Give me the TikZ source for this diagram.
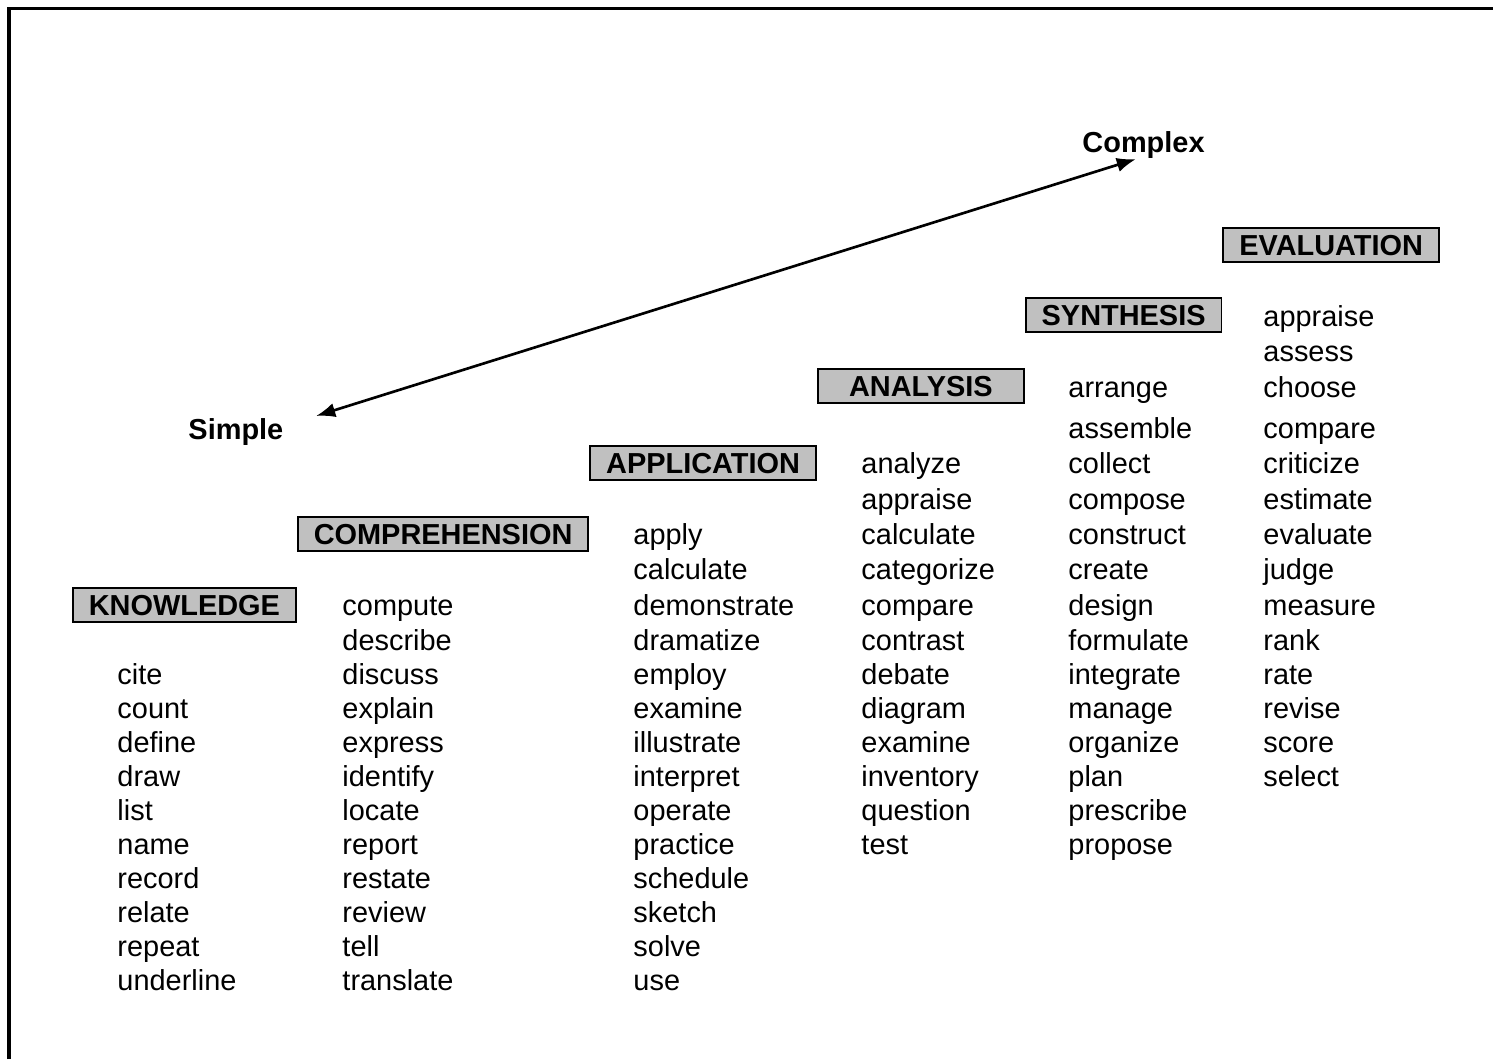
\documentclass[12pt,tikz,border=0pt]{standalone}
\usepackage{fontspec}
\setmainfont{Liberation Sans}
\usetikzlibrary{positioning, arrows.meta}
\definecolor{boxgray}{RGB}{192,192,192}
\tikzset{
level/.style={draw, fill=boxgray, line width=0.8pt, font=\bfseries,
  inner xsep=6.6pt, inner ysep=0pt, minimum height=14.1pt,
  text height=8.6pt, text depth=0pt}, % the gray heading boxes
verb/.style={anchor=west, inner sep=0pt, text height=8.6pt, text depth=0pt}, % one word of a list
pole/.style={verb, font=\bfseries}, % Simple / Complex
}
% y of each text row, top to bottom
\def\rows{{245,316,351,387,428,463,499,534,569,605,640,674,708,742,776,810,844,878,912,946,980}}

\begin{document}
\begin{tikzpicture}[x=0.415pt, y=-0.415pt]
  \useasboundingbox (0,0) rectangle (1493,1059);
  \draw[line width=1.25pt] (9,1059) -- (9,8) -- (1493,8);

  % headings, each one step up and to the right
  \node[level, anchor=west] (know) at (72,605) {KNOWLEDGE};
  \node[level, above right=14.6pt and 0pt of know] (comp) {COMPREHENSION};
  \node[level, above right=14.5pt and 0pt of comp] (app) {APPLICATION};
  \node[level, above right=17pt and 0pt of app, minimum width=85.5pt] (ana) {ANALYSIS};
  \node[level, above right=14.6pt and 0pt of ana] (syn) {SYNTHESIS};
  \node[level, above right=14.2pt and 0pt of syn] (eval) {EVALUATION};

  % the word lists
  \foreach \w [count=\i from 11] in {cite,count,define,draw,list,name,record,relate,repeat,underline}{
    \pgfmathsetmacro\yy{\rows[\i]}
    \node[verb] (know-\i) at (117,\yy) {\w};
  }
  \foreach \w [count=\i from 9] in {compute,describe,discuss,explain,express,identify,locate,report,restate,review,tell,translate}{
    \pgfmathsetmacro\yy{\rows[\i]}
    \node[verb] (comp-\i) at (342,\yy) {\w};
  }
  \foreach \w [count=\i from 7] in {apply,calculate,demonstrate,dramatize,employ,examine,illustrate,interpret,operate,practice,schedule,sketch,solve,use}{
    \pgfmathsetmacro\yy{\rows[\i]}
    \node[verb] (app-\i) at (633,\yy) {\w};
  }
  \foreach \w [count=\i from 5] in {analyze,appraise,calculate,categorize,compare,contrast,debate,diagram,examine,inventory,question,test}{
    \pgfmathsetmacro\yy{\rows[\i]}
    \node[verb] (ana-\i) at (861,\yy) {\w};
  }
  \foreach \w [count=\i from 3] in {arrange,assemble,collect,compose,construct,create,design,formulate,integrate,manage,organize,plan,prescribe,propose}{
    \pgfmathsetmacro\yy{\rows[\i]}
    \node[verb] (syn-\i) at (1068,\yy) {\w};
  }
  \foreach \w [count=\i from 1] in {appraise,assess,choose,compare,criticize,estimate,evaluate,judge,measure,rank,rate,revise,score,select}{
    \pgfmathsetmacro\yy{\rows[\i]}
    \node[verb] (eval-\i) at (1263,\yy) {\w};
  }

  % simple -> complex
  \node[pole] (simple) at (188,429) {Simple};
  \node[pole] (complex) at (1082,142) {Complex};
  \coordinate (lo) at (316,416);
  \coordinate (hi) at (1136,159);
  \draw[{Latex[length=8pt,width=6pt]}-{Latex[length=8pt,width=6pt]}, line width=1.1pt] (lo) -- (hi);
\end{tikzpicture}
\end{document}
